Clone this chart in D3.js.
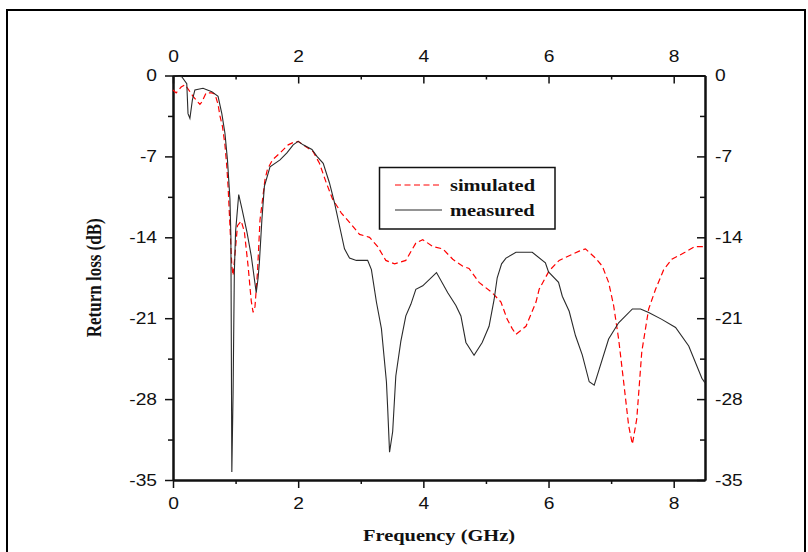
<!DOCTYPE html>
<html><head><meta charset="utf-8">
<script src="https://cdn.jsdelivr.net/npm/d3@7"></script>
<style>
body{margin:0;background:#fff;}
svg{display:block;}
</style></head>
<body>
<svg id="chart" width="808" height="552"></svg>
<script>
const freqMeasured = [0,0.14,0.22,0.24,0.27,0.31,0.35,0.48,0.62,0.72,0.78,0.83,0.87,0.91,0.925,0.94,0.96,0.98,1.0,1.05,1.1,1.18,1.25,1.33,1.36,1.38,1.42,1.46,1.55,1.71,1.82,1.92,2.0,2.08,2.22,2.3,2.4,2.5,2.58,2.66,2.74,2.82,2.93,3.11,3.17,3.25,3.33,3.41,3.43,3.46,3.51,3.56,3.64,3.72,3.80,3.88,3.99,4.21,4.39,4.52,4.60,4.68,4.81,4.94,5.05,5.13,5.18,5.25,5.32,5.48,5.74,5.95,6.0,6.16,6.22,6.33,6.43,6.54,6.65,6.73,6.81,6.96,7.12,7.34,7.47,7.60,7.81,8.03,8.24,8.45,8.5];
const measured = [0,-0.1,-0.7,-3.3,-3.7,-2.1,-1.25,-1.1,-1.4,-1.8,-3.3,-5.0,-7.3,-10.7,-14,-34.3,-27.5,-17,-13.5,-10.3,-11.5,-13.5,-15.6,-18.8,-17.5,-16.2,-12.5,-9.6,-7.9,-7.3,-6.7,-6.0,-5.7,-6.0,-6.4,-7.0,-7.6,-9.3,-11.0,-13.0,-15.0,-15.8,-16.0,-16.0,-16.8,-19.6,-21.9,-26.5,-28.8,-32.6,-30.8,-26.0,-23.0,-20.8,-19.8,-18.5,-18.2,-17.05,-18.8,-19.9,-20.8,-23.1,-24.2,-23.1,-21.7,-19.4,-17.5,-16.3,-15.8,-15.3,-15.3,-16.2,-17.0,-17.9,-19.1,-20.4,-22.5,-24.2,-26.5,-26.8,-25.4,-22.8,-21.4,-20.2,-20.2,-20.5,-21.1,-21.8,-23.4,-26.2,-26.6];
const freqSimulated = [0,0.05,0.13,0.19,0.22,0.32,0.43,0.46,0.53,0.62,0.67,0.72,0.75,0.79,0.83,0.86,0.88,0.91,0.94,0.96,0.99,1.03,1.09,1.14,1.20,1.25,1.28,1.31,1.35,1.39,1.47,1.51,1.59,1.71,1.84,1.92,2.0,2.08,2.24,2.34,2.45,2.55,2.69,2.82,2.98,3.14,3.27,3.40,3.54,3.72,3.88,3.99,4.15,4.31,4.47,4.63,4.73,4.89,5.10,5.24,5.34,5.42,5.48,5.64,5.80,5.85,6.01,6.17,6.33,6.49,6.59,6.75,6.86,6.96,7.04,7.12,7.20,7.28,7.34,7.41,7.49,7.60,7.71,7.84,7.97,8.18,8.34,8.5];
const simulated = [-1.25,-1.5,-1.0,-0.8,-1.0,-1.8,-2.5,-2.3,-1.5,-1.5,-1.6,-2.5,-3.5,-4.4,-6.0,-7.9,-9.6,-13,-16.5,-17.3,-15.5,-13.0,-12.6,-13.5,-16.5,-19.5,-20.5,-20.0,-17,-12.5,-9.0,-8.1,-7.3,-6.7,-6.0,-5.8,-5.7,-6.0,-6.6,-7.6,-9.3,-10.7,-11.9,-12.7,-13.75,-14.0,-14.8,-16.0,-16.3,-16.0,-14.5,-14.2,-14.8,-15.0,-15.9,-16.5,-16.7,-17.9,-18.8,-19.6,-21.1,-21.9,-22.4,-21.7,-19.6,-18.5,-16.9,-16.0,-15.6,-15.2,-15.0,-15.8,-16.5,-17.9,-19.9,-22.8,-26.5,-30.3,-31.9,-29.7,-23.9,-20.2,-18.5,-16.8,-15.9,-15.3,-14.8,-14.8];
const xMajorTicks = [0,2,4,6,8];
const xMinorTicks = [1,3,5,7];
const yMajorTicks = [0,-7,-14,-21,-28,-35];
const yMinorTicks = [-3.5,-10.5,-17.5,-24.5,-31.5];
const seriesNames = ["simulated","measured"];
const xTitle = "Frequency (GHz)";
const yTitle = "Return loss (dB)";

const svg = d3.select("#chart");
const L = 173, R = 705, T = 75.5, B = 480;
const x = d3.scaleLinear().domain([0,8.5]).range([L,R]);
const y = d3.scaleLinear().domain([-35,0]).range([B,T]);
const STRETCH = 1.2;

// outer frame
svg.append("path").attr("d",`M7,560 V10 H805 V560`).attr("fill","none").attr("stroke","#000").attr("stroke-width",2);

function styleAxis(g){
  g.select(".domain").attr("stroke","#111").attr("stroke-width",2);
  g.selectAll(".tick line").attr("stroke","#111").attr("stroke-width",1.5);
  g.selectAll("text").attr("font-family","'Liberation Sans', Arial, sans-serif").attr("font-size",16).attr("fill","#111");
}
const fmt = d => String(d);
// bottom
svg.append("g").attr("transform",`translate(0,${B})`)
  .call(d3.axisBottom(x).tickValues(xMajorTicks).tickSize(8).tickSizeOuter(0).tickPadding(10).tickFormat(fmt)).call(styleAxis);
svg.append("g").attr("transform",`translate(0,${B})`)
  .call(d3.axisBottom(x).tickValues(xMinorTicks).tickSize(4).tickSizeOuter(0).tickFormat("")).call(styleAxis);
// top
svg.append("g").attr("transform",`translate(0,${T})`)
  .call(d3.axisTop(x).tickValues(xMajorTicks).tickSize(-8).tickSizeOuter(0).tickPadding(14).tickFormat(fmt)).call(styleAxis);
svg.append("g").attr("transform",`translate(0,${T})`)
  .call(d3.axisTop(x).tickValues(xMinorTicks).tickSize(-4).tickSizeOuter(0).tickFormat("")).call(styleAxis);
// left
svg.append("g").attr("transform",`translate(${L},0)`)
  .call(d3.axisLeft(y).tickValues(yMajorTicks).tickSize(8).tickSizeOuter(0).tickPadding(8).tickFormat(fmt)).call(styleAxis);
svg.append("g").attr("transform",`translate(${L},0)`)
  .call(d3.axisLeft(y).tickValues(yMinorTicks).tickSize(5).tickSizeOuter(0).tickFormat("")).call(styleAxis);
// right
svg.append("g").attr("transform",`translate(${R},0)`)
  .call(d3.axisRight(y).tickValues(yMajorTicks).tickSize(-8).tickSizeOuter(0).tickPadding(10).tickFormat(fmt)).call(styleAxis);
svg.append("g").attr("transform",`translate(${R},0)`)
  .call(d3.axisRight(y).tickValues(yMinorTicks).tickSize(-5).tickSizeOuter(0).tickFormat("")).call(styleAxis);

// series
const line = d3.line().x(d=>x(d[0])).y(d=>y(d[1]));
const simData = freqSimulated.map((f,i)=>[f,simulated[i]]);
const measData = freqMeasured.map((f,i)=>[f,measured[i]]);
svg.append("path").datum(simData).attr("d",line).attr("fill","none")
  .attr("stroke","#ff0000").attr("stroke-width",1.2).attr("stroke-dasharray","6,3.5");
svg.append("path").datum(measData).attr("d",line).attr("fill","none")
  .attr("stroke","#2a2a2a").attr("stroke-width",1.1);

// legend
const lg = svg.append("g");
lg.append("rect").attr("x",379.5).attr("y",167.5).attr("width",175.5).attr("height",61.5)
  .attr("fill","#fff").attr("stroke","#111").attr("stroke-width",1.5);
const legendItems = [{name:seriesNames[0],color:"#ff0000",dash:"6,3.5",yy:185},{name:seriesNames[1],color:"#2a2a2a",dash:null,yy:210}];
legendItems.forEach(it=>{
  lg.append("line").attr("x1",395).attr("x2",442).attr("y1",it.yy).attr("y2",it.yy)
    .attr("stroke",it.color).attr("stroke-width",1.2).attr("stroke-dasharray",it.dash);
  lg.append("text").attr("x",450).attr("y",it.yy+6).text(it.name)
    .attr("font-family","'Liberation Serif', 'Times New Roman', serif").attr("font-weight","bold").attr("font-size",17).attr("fill","#111");
});

// titles
svg.append("text").attr("x",(L+R)/2).attr("y",541).attr("text-anchor","middle").text(xTitle)
  .attr("font-family","'Liberation Serif', 'Times New Roman', serif").attr("font-weight","bold").attr("font-size",17).attr("fill","#111");
svg.append("text").attr("transform",`translate(101,${(T+B)/2}) scale(${STRETCH},1) rotate(-90)`).attr("text-anchor","middle").text(yTitle)
  .attr("font-family","'Liberation Serif', 'Times New Roman', serif").attr("font-weight","bold").attr("font-size",17).attr("fill","#111");

// horizontal stretch of horizontal texts (original image appears widened)
svg.selectAll("text").each(function(){
  const t = d3.select(this);
  if ((t.attr("transform")||"").includes("rotate")) return;
  const w = this.getComputedTextLength();
  if (w>0) t.attr("textLength", w*STRETCH).attr("lengthAdjust","spacingAndGlyphs");
});
</script>
</body></html>
